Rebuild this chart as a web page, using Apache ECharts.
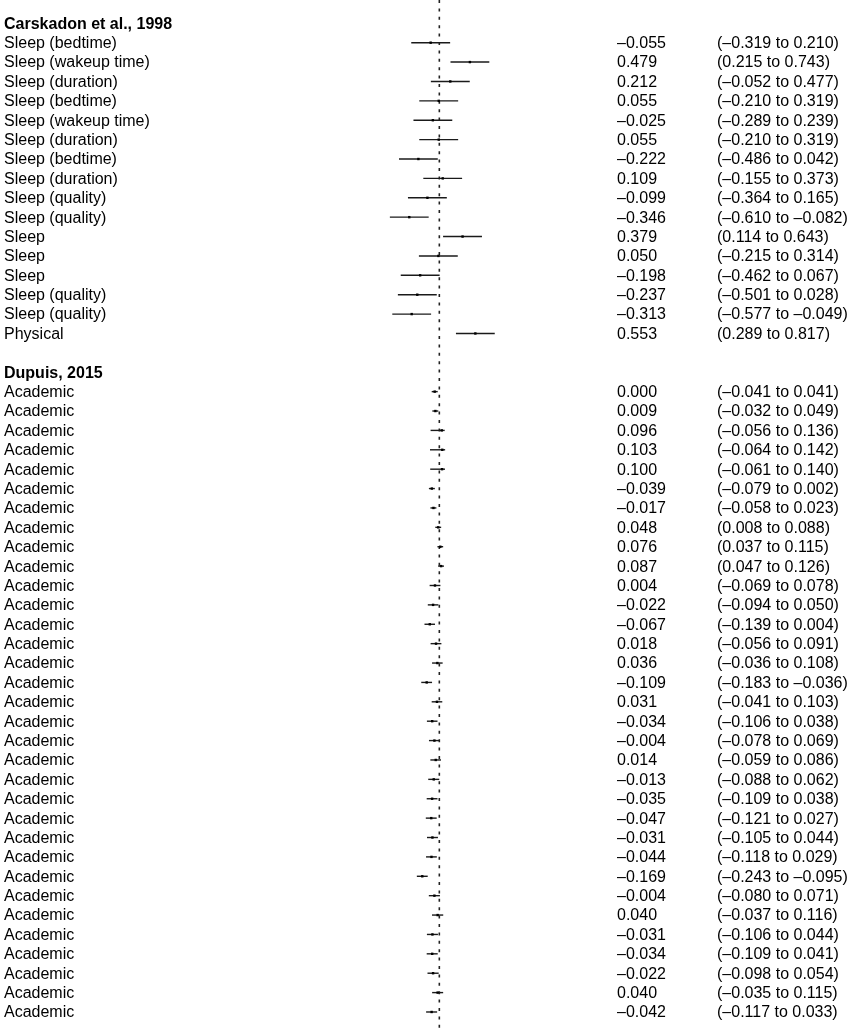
<!DOCTYPE html>
<html>
<head>
<meta charset="utf-8">
<title>Forest plot</title>
<script src="https://cdn.jsdelivr.net/npm/echarts@6/dist/echarts.min.js"></script>
<style>
  html, body { margin: 0; padding: 0; background: #fff; }
  #chart { width: 853px; height: 1036px; }
</style>
</head>
<body>
<div id="chart"></div>
<script>
// study headings
const studyTitles = ["Carskadon et al., 1998", "Dupuis, 2015"];

// Carskadon et al., 1998
const carskadonLabels = [
  "Sleep (bedtime)", "Sleep (wakeup time)", "Sleep (duration)", "Sleep (bedtime)",
  "Sleep (wakeup time)", "Sleep (duration)", "Sleep (bedtime)", "Sleep (duration)",
  "Sleep (quality)", "Sleep (quality)", "Sleep", "Sleep", "Sleep",
  "Sleep (quality)", "Sleep (quality)", "Physical"
];
const carskadonEst = [-0.055, 0.479, 0.212, 0.055, -0.025, 0.055, -0.222, 0.109,
  -0.099, -0.346, 0.379, 0.050, -0.198, -0.237, -0.313, 0.553];
const carskadonLo = [-0.319, 0.215, -0.052, -0.210, -0.289, -0.210, -0.486, -0.155,
  -0.364, -0.610, 0.114, -0.215, -0.462, -0.501, -0.577, 0.289];
const carskadonHi = [0.210, 0.743, 0.477, 0.319, 0.239, 0.319, 0.042, 0.373,
  0.165, -0.082, 0.643, 0.314, 0.067, 0.028, -0.049, 0.817];

// Dupuis, 2015 (all outcomes "Academic")
const dupuisEst = [0.000, 0.009, 0.096, 0.103, 0.100, -0.039, -0.017, 0.048, 0.076, 0.087,
  0.004, -0.022, -0.067, 0.018, 0.036, -0.109, 0.031, -0.034, -0.004, 0.014,
  -0.013, -0.035, -0.047, -0.031, -0.044, -0.169, -0.004, 0.040, -0.031, -0.034,
  -0.022, 0.040, -0.042];
const dupuisLo = [-0.041, -0.032, -0.056, -0.064, -0.061, -0.079, -0.058, 0.008, 0.037, 0.047,
  -0.069, -0.094, -0.139, -0.056, -0.036, -0.183, -0.041, -0.106, -0.078, -0.059,
  -0.088, -0.109, -0.121, -0.105, -0.118, -0.243, -0.080, -0.037, -0.106, -0.109,
  -0.098, -0.035, -0.117];
const dupuisHi = [0.041, 0.049, 0.136, 0.142, 0.140, 0.002, 0.023, 0.088, 0.115, 0.126,
  0.078, 0.050, 0.004, 0.091, 0.108, -0.036, 0.103, 0.038, 0.069, 0.086,
  0.062, 0.038, 0.027, 0.044, 0.029, -0.095, 0.071, 0.116, 0.044, 0.041,
  0.054, 0.115, 0.033];
const dupuisLabels = dupuisEst.map(() => "Academic");

// vertical dashed reference line
const refLine = 0.063;

// rows, top to bottom
const rows = [];
function addStudy(title, labels, est, lo, hi) {
  rows.push({ kind: "header", text: title });
  labels.forEach((label, i) => {
    rows.push({ kind: "item", text: label, est: est[i], lo: lo[i], hi: hi[i] });
  });
}
addStudy(studyTitles[0], carskadonLabels, carskadonEst, carskadonLo, carskadonHi);
rows.push({ kind: "blank", text: "" });
addStudy(studyTitles[1], dupuisLabels, dupuisEst, dupuisLo, dupuisHi);

function fmt(v) {
  return v.toFixed(3).replace("-", "\u2013");
}

const rowStep = 19.386;
const firstRowY = 23.3;
const gridHeight = 1033;
const yMin = -firstRowY / rowStep;
const yMax = (gridHeight - firstRowY) / rowStep;
const zeroX = 434.7;
const pxPerUnit = 73.5;

const textFont = "16px 'Liberation Sans', Arial, Helvetica, sans-serif";
const boldFont = "bold 16px 'Liberation Sans', Arial, Helvetica, sans-serif";
const ink = "#1a1a1a";

function renderRow(params, api) {
  const r = rows[params.dataIndex];
  const y = api.coord([0, params.dataIndex])[1];
  const children = [];
  if (r.kind === "blank") {
    return { type: "group", children };
  }
  children.push({
    type: "text",
    style: {
      x: 4, y: y + 1, text: r.text,
      font: r.kind === "header" ? boldFont : textFont,
      fill: "#000", verticalAlign: "middle", align: "left"
    }
  });
  if (r.kind === "item") {
    const pLo = api.coord([r.lo, params.dataIndex]);
    const pHi = api.coord([r.hi, params.dataIndex]);
    const pEst = api.coord([r.est, params.dataIndex]);
    children.push({
      type: "line",
      shape: { x1: pLo[0], y1: y, x2: pHi[0], y2: y },
      style: { stroke: ink, lineWidth: 1.4 }
    });
    children.push({
      type: "rect",
      shape: { x: pEst[0] - 1.2, y: y - 1.2, width: 2.4, height: 2.4 },
      style: { fill: "#000" }
    });
    children.push({
      type: "text",
      style: {
        x: 617, y: y + 1, text: fmt(r.est), font: textFont,
        fill: "#000", verticalAlign: "middle", align: "left"
      }
    });
    children.push({
      type: "text",
      style: {
        x: 717, y: y + 1, text: "(" + fmt(r.lo) + " to " + fmt(r.hi) + ")", font: textFont,
        fill: "#000", verticalAlign: "middle", align: "left"
      }
    });
  }
  return { type: "group", children };
}

const chart = echarts.init(document.getElementById("chart"), null, { renderer: "canvas" });
chart.setOption({
  animation: false,
  backgroundColor: "#fff",
  grid: { left: 0, right: 0, top: 0, height: gridHeight, containLabel: false },
  xAxis: {
    type: "value",
    min: -zeroX / pxPerUnit,
    max: (853 - zeroX) / pxPerUnit,
    show: false
  },
  yAxis: {
    type: "value",
    inverse: true,
    min: yMin,
    max: yMax,
    show: false
  },
  series: [
    {
      type: "line",
      data: [[refLine, yMin], [refLine, yMax]],
      symbol: "none",
      silent: true,
      lineStyle: { color: "#222", width: 1.6, type: [3, 5.4] },
      z: 1
    },
    {
      type: "custom",
      renderItem: renderRow,
      data: rows.map((r, i) => [r.est ?? 0, i]),
      silent: true,
      clip: false,
      z: 2
    }
  ]
});
</script>
</body>
</html>
